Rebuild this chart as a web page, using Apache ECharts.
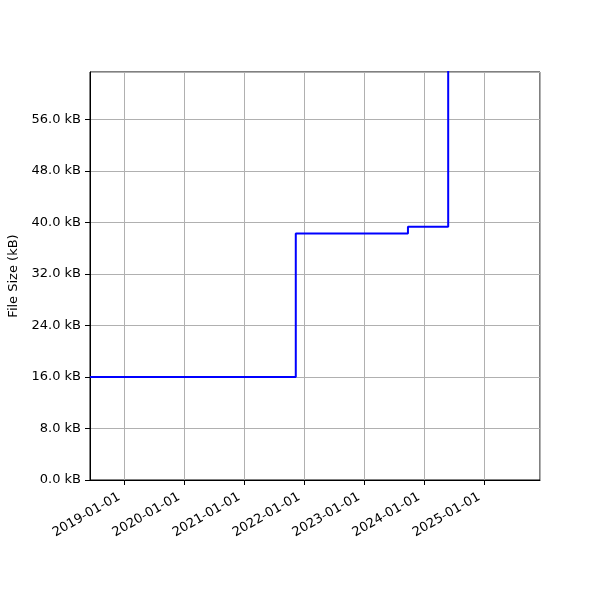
<!DOCTYPE html>
<html><head><meta charset="utf-8">
<script src="https://cdn.jsdelivr.net/npm/echarts@6/dist/echarts.min.js"></script>
<style>html,body{margin:0;padding:0;background:#fff}#c{width:600px;height:600px}</style>
</head><body><div id="c"></div>
<script>
const dates = ['2018-06-06', '2021-11-10', '2023-09-24', '2024-05-26'];
const sizes = [16.0, 38.3, 39.35, 70.0];
const xMin = '2018-06-06';
const xMax = '2025-12-06';
const yMax = 63.38;
const yStep = 8;

const chart = echarts.init(document.getElementById('c'), null, {renderer: 'canvas'});
const font = 'DejaVu Sans';
chart.setOption({
  animation: false,
  grid: {left: 90, right: 60, top: 72, bottom: 120, show: true, borderColor: '#000', borderWidth: 1,
    backgroundColor: 'transparent', containLabel: false, outerBoundsMode: 'none'},
  xAxis: {
    type: 'time',
    min: xMin, max: xMax,
    splitNumber: 7,
    axisLine: {show: true, lineStyle: {color: '#000'}},
    axisTick: {show: true, length: 5, lineStyle: {color: '#000'}},
    minorTick: {show: false},
    splitLine: {show: true, lineStyle: {color: '#b0b0b0', width: 1}},
    axisLabel: {
      rotate: 30, margin: 13, padding: [0, 6, 0, 0], color: '#000', fontFamily: font, fontSize: 13,
      showMinLabel: false, showMaxLabel: false,
      formatter: v => echarts.time.format(v, '{yyyy}-{MM}-{dd}', false)
    }
  },
  yAxis: {
    type: 'value', min: 0, max: yMax, interval: yStep,
    name: 'File Size (kB)', nameLocation: 'middle', nameGap: 60,
    nameTextStyle: {color: '#000', fontFamily: font, fontSize: 13},
    axisLine: {show: true, lineStyle: {color: '#000'}},
    axisTick: {show: true, length: 5, lineStyle: {color: '#000'}},
    splitLine: {show: true, lineStyle: {color: '#b0b0b0', width: 1}},
    axisLabel: {color: '#000', fontFamily: font, fontSize: 13, margin: 9, showMaxLabel: false,
      formatter: v => v.toFixed(1) + ' kB'}
  },
  series: [{
    type: 'line', step: 'end', clip: true, symbol: 'none',
    lineStyle: {color: '#0000ff', width: 2},
    data: dates.map((d, i) => [d, sizes[i]])
  }]
});
</script></body></html>
